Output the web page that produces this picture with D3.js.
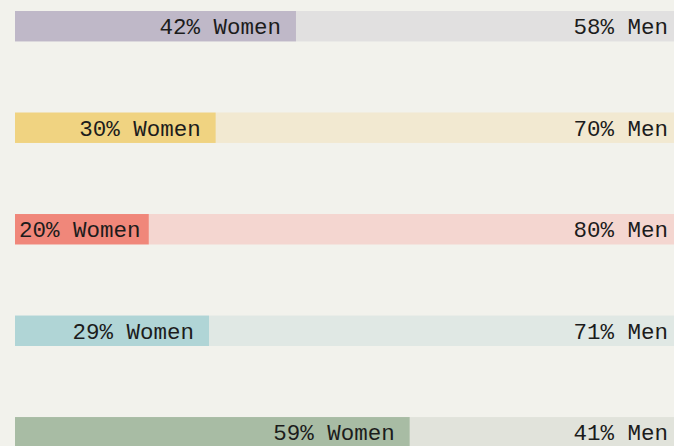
<!DOCTYPE html>
<html>
<head>
<meta charset="utf-8">
<script src="https://cdn.jsdelivr.net/npm/d3@7"></script>
<style>
  html, body { margin: 0; padding: 0; background: #f2f2ec; }
  svg { display: block; }
  text { font-family: "Liberation Mono", "DejaVu Sans Mono", monospace; font-size: 22.5px; fill: #1c1c1c; }
</style>
</head>
<body>
<svg id="chart" width="674" height="446"></svg>
<script>
const groups = ["g1", "g2", "g3", "g4", "g5"];
const womenPct = [42, 30, 20, 29, 59];
const menPct = [58, 70, 80, 71, 41];
const womenColors = ["#bfb8c8", "#f0d381", "#f0877a", "#b0d5d6", "#a8bca4"];
const menColors = ["#e1e0e0", "#f2e9d1", "#f4d6d0", "#e0e8e4", "#e1e3db"];

const W = 674, H = 446;
const svg = d3.select("#chart");

const x = d3.scaleLinear().domain([0, 100]).range([15, 684]);
const y = d3.scaleBand().domain(groups).range([11, 447.5]).paddingInner(0.7).paddingOuter(0);

const data = groups.map((g, i) => ({ g, w: womenPct[i], m: menPct[i], wc: womenColors[i], mc: menColors[i] }));

const row = svg.selectAll("g.row").data(data).join("g").attr("class", "row");

row.append("rect")
  .attr("x", d => x(d.w))
  .attr("y", d => y(d.g))
  .attr("width", d => x(d.w + d.m) - x(d.w))
  .attr("height", y.bandwidth())
  .attr("fill", d => d.mc);

row.append("rect")
  .attr("x", x(0))
  .attr("y", d => y(d.g))
  .attr("width", d => x(d.w) - x(0))
  .attr("height", y.bandwidth())
  .attr("fill", d => d.wc);

const pad = 15;
row.append("text")
  .attr("y", d => y(d.g) + y.bandwidth() / 2)
  .attr("dy", "0.36em")
  .attr("text-anchor", "end")
  .text(d => `${d.w}% Women`)
  .attr("x", function(d) {
    const len = this.getComputedTextLength();
    return Math.max(x(d.w) - pad, x(0) + 4 + len);
  });

row.append("text")
  .attr("x", W - 6)
  .attr("y", d => y(d.g) + y.bandwidth() / 2)
  .attr("dy", "0.36em")
  .attr("text-anchor", "end")
  .text(d => `${d.m}% Men`);
</script>
</body>
</html>
